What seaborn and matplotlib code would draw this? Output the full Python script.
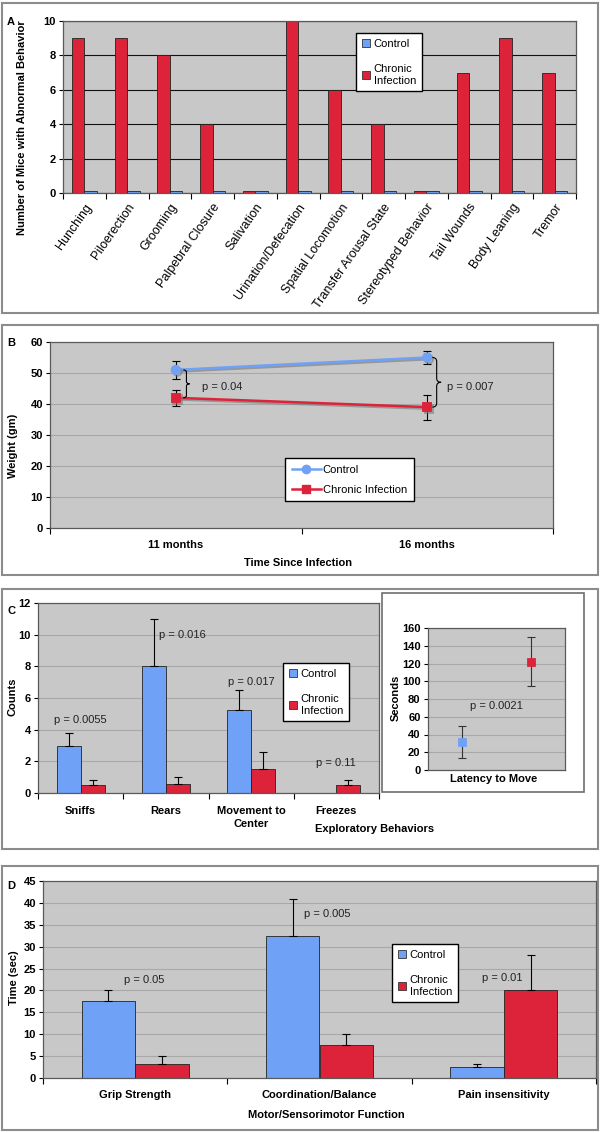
import numpy as np
import pandas as pd
import matplotlib
matplotlib.use("Agg")
import matplotlib.pyplot as plt
import matplotlib.patheffects as pe
from matplotlib.patches import Rectangle, Patch, PathPatch
from matplotlib.path import Path
from matplotlib.lines import Line2D
from matplotlib.transforms import Bbox, TransformedBbox
import seaborn as sns

plt.rcParams['font.family'] = ['Liberation Sans', 'DejaVu Sans']

W, H = 600, 1133
BLUE = '#6FA1F7'
RED = '#DC2339'
BG = '#C8C8C8'
GRID = '#A8A8A8'
PAL = {'Control': BLUE, 'Chronic Infection': RED}

# --- panel A: abnormal behaviour counts
behaviors = ["Hunching", "Piloerection", "Grooming", "Palpebral Closure", "Salivation",
             "Urination/Defecation", "Spatial Locomotion", "Transfer Arousal State",
             "Stereotyped Behavior", "Tail Wounds", "Body Leaning", "Tremor"]
a_chronic = [9, 9, 8, 4, 0.1, 10, 6, 4, 0.1, 7, 9, 7]
a_control = [0.1, 0.1, 0.1, 0.1, 0.1, 0.1, 0.1, 0.1, 0.1, 0.1, 0.1, 0.1]

# --- panel B: weight over time
times = ["11 months", "16 months"]
b_control = [51, 55]
b_control_err = [3, 2]
b_chronic = [42, 39]
b_chronic_err = [2.5, 4]

# --- panel C: exploratory behaviours
explor = ["Sniffs", "Rears", "Movement to\nCenter", "Freezes"]
c_control = [3.0, 8.0, 5.25, 0.0]
c_control_err = [0.8, 3.0, 1.25, 0.0]
c_chronic = [0.5, 0.6, 1.5, 0.5]
c_chronic_err = [0.3, 0.4, 1.1, 0.3]

# --- panel C inset: latency to move
groups = ["Control", "Chronic Infection"]
latency = [32, 122]
latency_err = [18, 27.5]

# --- panel D: motor function
motor = ["Grip Strength", "Coordination/Balance", "Pain insensitivity"]
d_control = [17.5, 32.5, 2.6]
d_control_err = [2.5, 8.5, 0.5]
d_chronic = [3.1, 7.6, 20.0]
d_chronic_err = [1.9, 2.4, 8.0]

fig = plt.figure(figsize=(6, 11.33), dpi=100)


def px_axes(x0, y0, x1, y1, z=1):
    ax = fig.add_axes([x0 / W, 1 - y1 / H, (x1 - x0) / W, (y1 - y0) / H])
    ax.set_zorder(z)
    return ax


def box(x0, y0, x1, y1, ec='#8C8C8C', lw=1.5, z=-2):
    fig.patches.append(Rectangle((x0 / W, 1 - y1 / H), (x1 - x0) / W, (y1 - y0) / H,
                                 transform=fig.transFigure, fc='white', ec=ec, lw=lw, zorder=z))


def ftext(x, y, s, **kw):
    fig.text(x / W, 1 - y / H, s, ha=kw.pop('ha', 'center'), va=kw.pop('va', 'center'), **kw)


def style(ax, grid_color=GRID):
    ax.set_facecolor(BG)
    for sp in ax.spines.values():
        sp.set_color('#5A5A5A')
        sp.set_linewidth(0.9)
    ax.yaxis.grid(True, color=grid_color, lw=0.8)
    ax.set_axisbelow(True)
    ax.tick_params(axis='y', length=3, width=0.8, labelsize=8, pad=2)
    for t in ax.get_yticklabels():
        t.set_fontweight('bold')
    ax.set_xlabel('')
    ax.set_ylabel('')


def cat_ticks(ax, labels, **kw):
    n = len(labels)
    ax.set_xlim(-0.5, n - 0.5)
    ax.set_xticks(range(n))
    ax.set_xticklabels(labels, **kw)
    ax.set_xticks(np.arange(n + 1) - 0.5, minor=True)
    ax.tick_params(axis='x', which='major', length=0)
    ax.tick_params(axis='x', which='minor', length=4, width=0.8)


def bars(ax, cats, control, chronic, order, width, errs=None):
    n = len(cats)
    df = pd.DataFrame({'cat': cats * 2, 'val': control + chronic,
                       'group': ['Control'] * n + ['Chronic Infection'] * n})
    sns.barplot(data=df, x='cat', y='val', hue='group', hue_order=order, order=cats,
                palette=PAL, saturation=1, width=width, errorbar=None,
                edgecolor='#222222', linewidth=0.6, legend=False, ax=ax)
    if errs:
        vals = {'Control': control, 'Chronic Infection': chronic}
        for cont, g in zip(ax.containers, order):
            xs = [p.get_x() + p.get_width() / 2 for p in cont]
            sel = [i for i in range(n) if errs[g][i] > 0]
            ax.errorbar([xs[i] for i in sel], [vals[g][i] for i in sel],
                        yerr=[[0] * len(sel), [errs[g][i] for i in sel]],
                        fmt='none', ecolor='black', elinewidth=0.8, capsize=3, capthick=0.8)


def bar_legend(ax, x0, y0, spacing):
    handles = [Patch(fc=BLUE, ec='#333333', lw=0.6), Patch(fc=RED, ec='#333333', lw=0.6)]
    ax.legend(handles, ['Control', 'Chronic\nInfection'], loc='upper left',
              bbox_to_anchor=(x0 / W, 1 - y0 / H), bbox_transform=fig.transFigure,
              borderaxespad=0, fontsize=8, frameon=True, fancybox=False, edgecolor='black',
              framealpha=1, handlelength=0.8, handleheight=0.8, handletextpad=0.3,
              labelspacing=spacing, borderpad=0.5)


def brace(ax, x, y0, y1, w):
    ym = (y0 + y1) / 2
    d = (y1 - y0) * 0.08
    xm = x + w / 2
    verts = [(x, y0), (xm, y0), (xm, y0 + d), (xm, ym - d), (xm, ym), (x + w, ym),
             (xm, ym), (xm, ym + d), (xm, y1 - d), (xm, y1), (x, y1)]
    codes = [Path.MOVETO, Path.CURVE3, Path.CURVE3, Path.LINETO, Path.CURVE3, Path.CURVE3,
             Path.CURVE3, Path.CURVE3, Path.LINETO, Path.CURVE3, Path.CURVE3]
    ax.add_patch(PathPatch(Path(verts, codes), fill=False, lw=0.8, ec='black', zorder=5))


# panel frames
box(2, 3, 598, 313)
box(2, 325, 598, 575)
box(2, 589, 598, 849)
box(2, 866, 598, 1130)

# ---------------- A
axA = px_axes(63, 21, 576, 193)
bars(axA, behaviors, a_control, a_chronic, ['Chronic Infection', 'Control'], 0.58)
axA.set_ylim(0, 10)
axA.set_yticks(range(0, 11, 2))
style(axA, grid_color='#111111')
cat_ticks(axA, behaviors, rotation=55, ha='right', rotation_mode='anchor', fontsize=9)
axA.tick_params(axis='x', which='major', pad=6)
clip = TransformedBbox(Bbox([[2 / W, 1 - 311 / H], [598 / W, 1 - 3 / H]]), fig.transFigure)
for t in axA.get_xticklabels():
    t.set_clip_box(clip)
    t.set_clip_on(True)
bar_legend(axA, 356, 33, 1.4)
ftext(11, 22, 'A', fontweight='bold', fontsize=8)
ftext(22, 128, 'Number of Mice with Abnormal Behavior', rotation=90, fontsize=8, fontweight='bold')

# ---------------- B
axB = px_axes(50, 342, 553, 528)
df_b = pd.DataFrame({'time': times * 2, 'weight': b_control + b_chronic,
                     'group': ['Control'] * 2 + ['Chronic Infection'] * 2})
sns.pointplot(data=df_b, x='time', y='weight', hue='group', hue_order=groups, order=times,
              palette=PAL, markers=['o', 's'], linestyles=['-', '-'], errorbar=None,
              markersize=6, linewidth=1.8, legend=False, ax=axB)
for ln, err in zip(axB.lines[:2], [b_control_err, b_chronic_err]):
    ln.set_path_effects([pe.SimpleLineShadow(offset=(1.2, -1.2), shadow_color='#777777', alpha=0.6),
                         pe.Normal()])
    ln.set_zorder(4)
    axB.errorbar(ln.get_xdata(), ln.get_ydata(), yerr=err, fmt='none', ecolor='black',
                 elinewidth=0.8, capsize=3, capthick=0.8, zorder=3)
axB.set_ylim(0, 60)
axB.set_yticks(range(0, 61, 10))
style(axB)
cat_ticks(axB, times, fontsize=8, fontweight='bold')
axB.tick_params(axis='x', which='major', pad=9)
brace(axB, 0.03, 42, 51, 0.025)
brace(axB, 1.02, 39, 55, 0.035)
axB.text(0.103, 45.5, 'p = 0.04', fontsize=8, va='center', color='#222222')
axB.text(1.078, 45.5, 'p = 0.007', fontsize=8, va='center', color='#222222')
hB = [Line2D([], [], color=BLUE, marker='o', lw=1.8, ms=6),
      Line2D([], [], color=RED, marker='s', lw=1.8, ms=6)]
axB.legend(hB, groups, loc='upper left', bbox_to_anchor=(285 / W, 1 - 458 / H),
           bbox_transform=fig.transFigure, borderaxespad=0, fontsize=8, fancybox=False,
           edgecolor='black', framealpha=1, handlelength=2.6, handletextpad=0.2,
           labelspacing=0.9, borderpad=0.6)
ftext(11, 343, 'B', fontweight='bold', fontsize=8)
ftext(13, 446, 'Weight (gm)', rotation=90, fontsize=8, fontweight='bold')
ftext(298, 563, 'Time Since Infection', fontsize=8, fontweight='bold')

# ---------------- C
axC = px_axes(38, 603, 379, 793)
bars(axC, explor, c_control, c_chronic, groups, 0.565,
     errs={'Control': c_control_err, 'Chronic Infection': c_chronic_err})
axC.set_ylim(0, 12)
axC.set_yticks(range(0, 13, 2))
style(axC)
cat_ticks(axC, explor, fontsize=8, fontweight='bold', va='top', linespacing=1.4)
axC.tick_params(axis='x', which='major', pad=9)
axC.text(0, 4.6, 'p = 0.0055', fontsize=8, ha='center', va='center', color='#222222')
axC.text(0.92, 10.0, 'p = 0.016', fontsize=8, ha='left', va='center', color='#222222')
axC.text(2.0, 7.0, 'p = 0.017', fontsize=8, ha='center', va='center', color='#222222')
axC.text(3.0, 1.9, 'p = 0.11', fontsize=8, ha='center', va='center', color='#222222')
bar_legend(axC, 283, 663, 1.4)
ftext(11, 611, 'C', fontweight='bold', fontsize=8)
ftext(12, 697, 'Counts', rotation=90, fontsize=8, fontweight='bold')
ftext(375, 829, 'Exploratory Behaviors', fontsize=8, fontweight='bold')

# inset
box(382, 593, 584, 792, ec='#6E6E6E', lw=1.2, z=-1)
axI = px_axes(427.5, 628, 565, 770)
df_i = pd.DataFrame({'group': groups, 'sec': latency})
sns.pointplot(data=df_i, x='group', y='sec', hue='group', hue_order=groups, order=groups,
              palette=PAL, markers='s', linestyle='none', errorbar=None, markersize=5,
              legend=False, ax=axI)
for ln, err in zip(axI.lines[:2], latency_err):
    ln.set_zorder(4)
    axI.errorbar(ln.get_xdata(), ln.get_ydata(), yerr=err, fmt='none', ecolor='#333333',
                 elinewidth=0.8, capsize=3, capthick=0.8, zorder=3)
axI.set_ylim(0, 160)
axI.set_yticks(range(0, 161, 20))
axI.set_xlim(-0.5, 1.5)
style(axI)
axI.set_xticks([])
axI.text(0.5, 72, 'p = 0.0021', fontsize=8, ha='center', va='center', color='#222222')
ftext(396, 698, 'Seconds', rotation=90, fontsize=8, fontweight='bold')
ftext(494, 779, 'Latency to Move', fontsize=8, fontweight='bold')

# ---------------- D
axD = px_axes(43, 881, 596, 1078)
bars(axD, motor, d_control, d_chronic, groups, 0.58,
     errs={'Control': d_control_err, 'Chronic Infection': d_chronic_err})
axD.set_ylim(0, 45)
axD.set_yticks(range(0, 46, 5))
style(axD)
cat_ticks(axD, motor, fontsize=8, fontweight='bold')
axD.tick_params(axis='x', which='major', pad=9)
axD.text(0.05, 22.3, 'p = 0.05', fontsize=8, ha='center', va='center', color='#222222')
axD.text(1.04, 37.4, 'p = 0.005', fontsize=8, ha='center', va='center', color='#222222')
axD.text(1.99, 22.8, 'p = 0.01', fontsize=8, ha='center', va='center', color='#222222')
bar_legend(axD, 392, 944, 1.4)
ftext(11, 886, 'D', fontweight='bold', fontsize=8)
ftext(14, 978, 'Time (sec)', rotation=90, fontsize=8, fontweight='bold')
ftext(326, 1115, 'Motor/Sensorimotor Function', fontsize=8, fontweight='bold')

fig.savefig('out.png', dpi=100)
